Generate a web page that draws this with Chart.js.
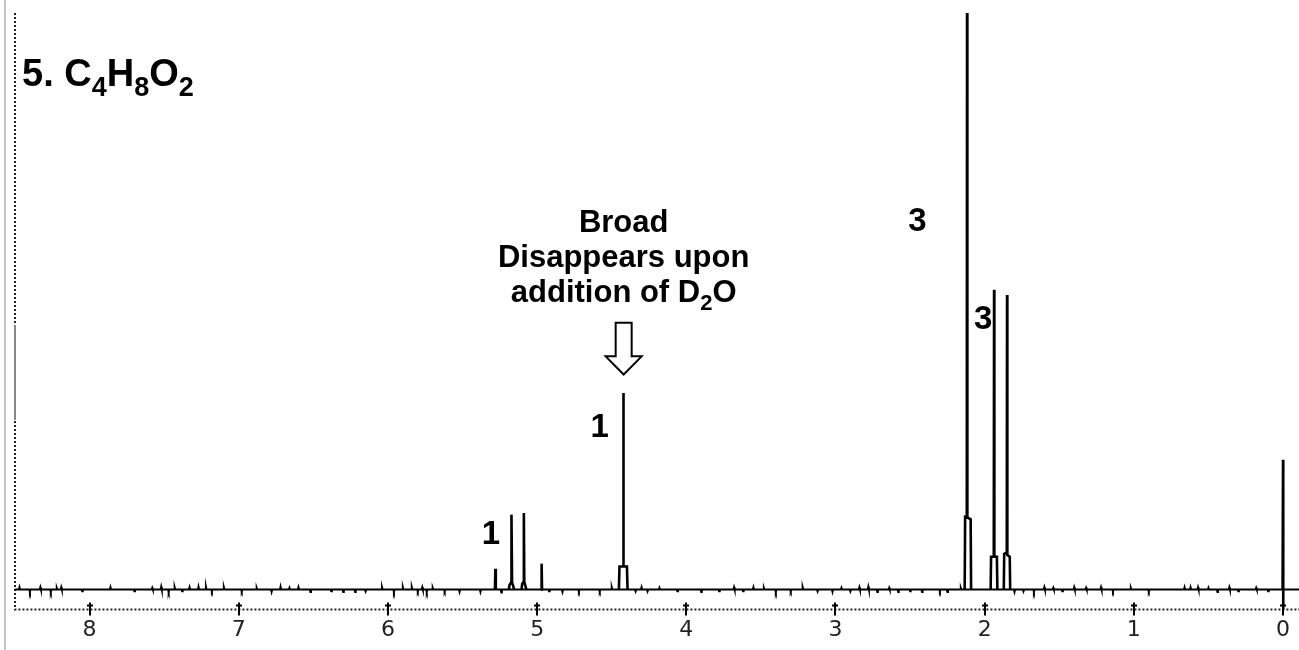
<!DOCTYPE html>
<html>
<head>
<meta charset="utf-8">
<script src="https://cdn.jsdelivr.net/npm/chart.js@4.4.1/dist/chart.umd.min.js"></script>
<style>
  html, body { margin: 0; padding: 0; background: #fff; }
  #wrap { position: relative; width: 1299px; height: 650px; }
</style>
</head>
<body>
<div id="wrap"><canvas id="nmrChart"></canvas></div>
<script>
// chemical shift ticks (ppm)
var tickValues = [8, 7, 6, 5, 4, 3, 2, 1, 0];

// small noise ticks on the baseline, [ppm, intensity]
var noiseTicks = [
  [8.47, 0.4], [8.40, -0.4], [8.33, 0.4], [8.26, -0.4], [8.22, 0.3], [8.19, 0.4],
  [8.05, -0.3], [7.86, 0.4], [7.70, -0.3], [7.58, 0.3], [7.52, 0.5], [7.47, -0.4],
  [7.43, 0.4], [7.38, -0.3], [7.33, 0.4], [7.27, 0.5], [7.22, 0.5], [7.18, -0.3],
  [7.10, 0.4], [6.98, -0.3], [6.88, 0.3], [6.78, -0.4], [6.72, 0.5], [6.66, 0.3],
  [6.60, 0.4], [6.52, -0.4], [6.38, -0.3], [6.30, -0.4], [6.22, -0.4], [6.15, -0.3],
  [6.04, 0.4], [5.96, -0.4], [5.90, 0.4], [5.84, 0.4], [5.80, -0.3], [5.77, 0.4],
  [5.74, -0.4], [5.70, 0.3], [5.62, -0.3], [5.52, -0.4], [5.38, -0.4], [5.24, -0.5],
  [4.92, -0.3], [4.83, -0.4], [4.72, -0.3], [4.58, -0.3], [4.50, 0.4], [4.34, -0.3],
  [4.30, 0.4], [4.26, -0.3], [4.18, 0.3], [4.06, -0.3], [3.90, -0.4], [3.78, -0.3],
  [3.68, 0.4], [3.62, -0.3], [3.55, 0.4], [3.48, 0.3], [3.40, -0.4], [3.30, -0.3],
  [3.22, 0.4], [3.12, -0.3], [3.02, -0.4], [2.96, 0.3], [2.90, -0.3], [2.84, 0.4],
  [2.78, 0.5], [2.72, -0.4], [2.64, 0.3], [2.58, -0.4], [2.50, -0.3], [2.42, -0.4],
  [2.30, -0.3], [2.25, -0.4], [2.16, 0.3], [1.80, -0.4], [1.74, -0.3], [1.67, -0.4],
  [1.60, 0.4], [1.54, 0.3], [1.48, -0.3], [1.40, 0.4], [1.32, 0.3], [1.22, 0.4],
  [1.14, -0.3], [1.02, 0.3], [0.90, -0.3], [0.66, 0.4], [0.62, 0.4], [0.57, 0.4],
  [0.50, 0.3], [0.44, -0.4], [0.36, 0.4], [0.30, -0.3], [0.18, 0.3], [0.10, -0.3]
];

// each peak as its own trace, [ppm, intensity]
var peakTraces = [
  [[5.283, 0], [5.280, 3.6], [5.277, 0]],
  [[5.190, 0], [5.185, 0.8], [5.175, 1.2], [5.172, 13.0], [5.168, 1.2], [5.160, 0.6], [5.155, 0]],
  [[5.105, 0], [5.100, 1.0], [5.092, 1.3], [5.089, 13.3], [5.086, 1.3], [5.078, 0.6], [5.072, 0]],
  [[4.973, 0], [4.970, 4.5], [4.967, 0]],
  [[4.452, 0], [4.448, 4.0], [4.424, 4.0], [4.422, 34.1], [4.420, 4.0], [4.398, 4.0], [4.394, 0]],
  [[2.134, 0], [2.131, 12.6], [2.120, 12.5], [2.118, 110], [2.116, 12.5], [2.094, 12.2], [2.091, 0]],
  [[1.960, 0], [1.957, 5.7], [1.939, 5.7], [1.937, 52.0], [1.935, 5.7], [1.918, 5.7], [1.915, 0]],
  [[1.872, 0], [1.869, 6.2], [1.852, 6.4], [1.850, 51.1], [1.848, 6.0], [1.832, 5.7], [1.829, 0]],
  [[0.003, 0], [0.0, 22.5], [0.0, -4.5], [-0.003, 0]]
];

// integration labels
var integralText = ['3', '3', '1', '1'];
var integralPpm = [2.45, 2.01, 4.58, 5.31];
var integralLevel = [63.8, 46.8, 28.1, 9.5];

var X_MIN = -0.107, X_MAX = 8.5;
var FONT = '"Liberation Sans", Arial, Helvetica, sans-serif';

function toPoints(pairs) {
  return pairs.map(function (p) { return { x: p[0], y: p[1] }; });
}

// flat baseline with the noise ticks on it
var baselineData = [{ x: X_MAX, y: 0 }];
noiseTicks.forEach(function (t) {
  baselineData.push({ x: t[0] + 0.004, y: 0 });
  baselineData.push({ x: t[0], y: t[1] });
  baselineData.push({ x: t[0] - 0.004, y: 0 });
});
baselineData.push({ x: X_MIN, y: 0 });

var peakData = [];
peakTraces.forEach(function (trace) {
  peakData = peakData.concat(toPoints(trace));
  peakData.push({ x: trace[trace.length - 1][0], y: null });
});

// draw a run of text pieces, some as subscripts
function drawRich(ctx, parts, x, y, size, align) {
  var subSize = Math.round(size * 0.72);
  var total = 0;
  parts.forEach(function (p) {
    ctx.font = 'bold ' + (p[1] ? subSize : size) + 'px ' + FONT;
    total += ctx.measureText(p[0]).width;
  });
  var cx = align === 'center' ? x - total / 2 : x;
  ctx.textAlign = 'left';
  ctx.textBaseline = 'alphabetic';
  parts.forEach(function (p) {
    ctx.font = 'bold ' + (p[1] ? subSize : size) + 'px ' + FONT;
    ctx.fillText(p[0], cx, p[1] ? y + size * 0.25 : y);
    cx += ctx.measureText(p[0]).width;
  });
}

var decorPlugin = {
  id: 'decor',
  beforeDraw: function (chart) {
    var ctx = chart.ctx;
    var area = chart.chartArea;
    ctx.save();
    ctx.fillStyle = '#fff';
    ctx.fillRect(0, 0, chart.width, chart.height);
    // light rule at far left
    ctx.strokeStyle = '#c4c4c4';
    ctx.lineWidth = 2;
    ctx.beginPath();
    ctx.moveTo(5, 0);
    ctx.lineTo(5, chart.height);
    ctx.stroke();
    // dotted frame, left and bottom
    ctx.strokeStyle = '#222';
    ctx.lineWidth = 2;
    ctx.setLineDash([2, 2]);
    ctx.beginPath();
    ctx.moveTo(area.left, area.top);
    ctx.lineTo(area.left, area.bottom);
    ctx.lineTo(chart.width, area.bottom);
    ctx.stroke();
    ctx.setLineDash([]);
    // grey solid stretch on the left edge
    ctx.strokeStyle = '#888';
    ctx.beginPath();
    ctx.moveTo(area.left, 325);
    ctx.lineTo(area.left, 420);
    ctx.stroke();
    ctx.restore();
  },
  afterDraw: function (chart) {
    var ctx = chart.ctx;
    var xs = chart.scales.x, ys = chart.scales.y;
    var area = chart.chartArea;
    ctx.save();
    ctx.fillStyle = '#000';
    ctx.strokeStyle = '#000';

    // tick crosses on the dotted axis
    ctx.lineWidth = 2;
    tickValues.forEach(function (v) {
      var px = Math.round(xs.getPixelForValue(v));
      ctx.beginPath();
      ctx.moveTo(px, area.bottom - 7);
      ctx.lineTo(px, area.bottom + 6);
      ctx.moveTo(px - 3, area.bottom - 4);
      ctx.lineTo(px + 3, area.bottom - 4);
      ctx.stroke();
    });

    // title
    drawRich(ctx, [['5. C', false], ['4', true], ['H', false], ['8', true], ['O', false], ['2', true]],
      22, 86, 38, 'left');

    // integration numbers
    ctx.font = 'bold 33px ' + FONT;
    ctx.textAlign = 'center';
    ctx.textBaseline = 'middle';
    integralText.forEach(function (t, i) {
      ctx.fillText(t, xs.getPixelForValue(integralPpm[i]), ys.getPixelForValue(integralLevel[i]));
    });

    // note over the broad OH peak
    var nx = xs.getPixelForValue(4.42);
    drawRich(ctx, [['Broad', false]], nx, ys.getPixelForValue(62.0), 31, 'center');
    drawRich(ctx, [['Disappears upon', false]], nx, ys.getPixelForValue(56.0), 31, 'center');
    drawRich(ctx, [['addition of D', false], ['2', true], ['O', false]], nx, ys.getPixelForValue(49.9), 31, 'center');

    // hollow down arrow
    var top = ys.getPixelForValue(46.3), tip = ys.getPixelForValue(37.3);
    var neck = top + (tip - top) * 0.65;
    ctx.lineWidth = 2;
    ctx.fillStyle = '#fff';
    ctx.beginPath();
    ctx.moveTo(nx - 8, top);
    ctx.lineTo(nx + 8, top);
    ctx.lineTo(nx + 8, neck);
    ctx.lineTo(nx + 18, neck);
    ctx.lineTo(nx, tip);
    ctx.lineTo(nx - 18, neck);
    ctx.lineTo(nx - 8, neck);
    ctx.closePath();
    ctx.fill();
    ctx.stroke();
    ctx.restore();
  }
};

new Chart(document.getElementById('nmrChart'), {
  type: 'line',
  data: {
    datasets: [{
      label: 'baseline',
      data: baselineData,
      borderColor: '#000',
      borderWidth: 2,
      pointRadius: 0,
      tension: 0
    }, {
      label: 'peaks',
      data: peakData,
      borderColor: '#000',
      borderWidth: 2.6,
      pointRadius: 0,
      tension: 0,
      spanGaps: false
    }]
  },
  options: {
    responsive: true,
    maintainAspectRatio: false,
    animation: false,
    layout: { padding: { left: 15, top: 13, right: 0, bottom: 0 } },
    plugins: {
      legend: { display: false },
      tooltip: { enabled: false }
    },
    scales: {
      x: {
        type: 'linear',
        reverse: true,
        min: X_MIN,
        max: X_MAX,
        grid: { display: false, drawTicks: false },
        border: { display: false },
        afterBuildTicks: function (axis) {
          axis.ticks = tickValues.map(function (v) { return { value: v }; });
        },
        ticks: {
          autoSkip: false,
          maxRotation: 0,
          padding: 7,
          color: '#222',
          font: { family: '"DejaVu Sans", sans-serif', size: 22 },
          callback: function (v) { return String(v); }
        }
      },
      y: {
        type: 'linear',
        min: -3.47,
        max: 100,
        grid: { display: false, drawTicks: false },
        border: { display: false },
        ticks: { display: false }
      }
    }
  },
  plugins: [decorPlugin]
});
</script>
</body>
</html>
